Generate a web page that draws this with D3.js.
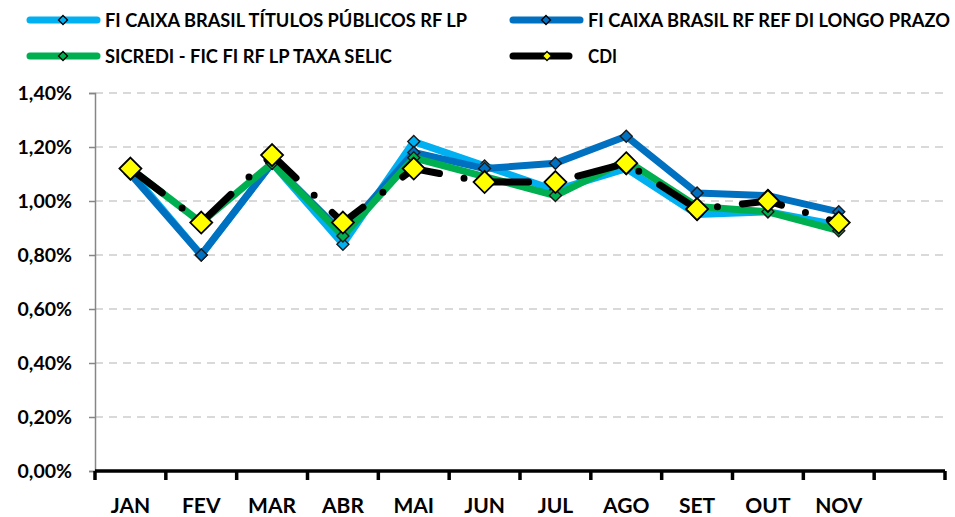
<!DOCTYPE html>
<html><head><meta charset="utf-8">
<script src="https://cdn.jsdelivr.net/npm/d3@7"></script>
<style>body{margin:0;background:#fff}svg{display:block}text{font-family:Lato,"Open Sans",sans-serif;font-weight:bold;fill:#000}</style>
</head><body><svg id="c" width="955" height="517"></svg>
<script>
const months = ["JAN","FEV","MAR","ABR","MAI","JUN","JUL","AGO","SET","OUT","NOV","DEZ"];
const monthLabels = ["JAN","FEV","MAR","ABR","MAI","JUN","JUL","AGO","SET","OUT","NOV",""];
const yTicks = [0,0.2,0.4,0.6,0.8,1.0,1.2,1.4];
const titulosPublicos = [1.11,0.80,1.14,0.84,1.22,1.13,1.04,1.12,0.95,0.96,0.91];
const refDiLongo = [1.10,0.80,1.14,0.88,1.18,1.12,1.14,1.24,1.03,1.02,0.96];
const sicredi = [1.12,0.92,1.14,0.87,1.16,1.09,1.02,1.15,0.98,0.96,0.89];
const cdi = [1.12,0.92,1.17,0.92,1.12,1.07,1.07,1.14,0.97,1.00,0.92];
const seriesNames = ["FI CAIXA BRASIL TÍTULOS PÚBLICOS RF LP","FI CAIXA BRASIL RF REF DI LONGO PRAZO","SICREDI - FIC FI RF LP TAXA SELIC","CDI"];
const seriesColors = ["#00B0F0","#0070C0","#00B050","#000000"];

const svg = d3.select("#c");
const x = d3.scaleBand().domain(months).range([95,945]);
const y = d3.scaleLinear().domain([0,1.4]).range([471,93]);
const fmt = v => d3.format(".2f")(v).replace(".", ",") + "%";

// gridlines
svg.append("g").selectAll("line").data(yTicks.filter(d=>d>0)).join("line")
  .attr("x1",95).attr("x2",945).attr("y1",d=>y(d)).attr("y2",d=>y(d))
  .attr("stroke","#d9d9d9").attr("stroke-width",2).attr("stroke-dasharray","8 6");

// y axis
const ya = svg.append("g").attr("transform","translate(95,0)")
  .call(d3.axisLeft(y).tickValues(yTicks).tickFormat(fmt).tickSize(6).tickPadding(17));
ya.select(".domain").attr("stroke","#868686").attr("stroke-width",1.5);
ya.selectAll(".tick line").attr("stroke","#868686").attr("stroke-width",1.5);
ya.selectAll("text").attr("font-size",19.5).attr("font-family","Lato").attr("font-weight","bold").attr("fill","#000");

// x axis
const xa = svg.append("g").attr("transform","translate(0,471)")
  .call(d3.axisBottom(x).tickFormat((d,i)=>monthLabels[i]).tickSize(0).tickPadding(42));
xa.select(".domain").remove();
xa.selectAll("text").attr("font-size",21).attr("font-family","Lato").attr("font-weight","bold").attr("fill","#000").attr("dy","0");
svg.append("line").attr("x1",95).attr("x2",945).attr("y1",471).attr("y2",471).attr("stroke","#000").attr("stroke-width",3.5);
const bounds = months.map(m=>x(m)).concat([x.range()[1]]);
svg.append("g").selectAll("line").data(bounds).join("line")
  .attr("x1",d=>d).attr("x2",d=>d).attr("y1",471).attr("y2",480)
  .attr("stroke","#000").attr("stroke-width",3.5);

const cx = i => x(months[i]) + x.bandwidth()/2;
const line = d3.line().x((d,i)=>cx(i)).y(d=>y(d));
const diamond = (s) => `M0,${-s}L${s},0L0,${s}L${-s},0Z`;

const allSeries = [titulosPublicos, refDiLongo, sicredi, cdi];
allSeries.forEach((data,k)=>{
  const g = svg.append("g");
  const p = g.append("path").attr("d",line(data)).attr("fill","none")
    .attr("stroke",seriesColors[k]).attr("stroke-width",7)
    .attr("stroke-linejoin","round").attr("stroke-linecap","round");
  if(k===3) p.attr("stroke-dasharray","40 25 0 25");
  g.selectAll("path.m").data(data).join("path").attr("class","m")
    .attr("transform",(d,i)=>`translate(${cx(i)},${y(d)})`)
    .attr("d",diamond(k===3?11:6))
    .attr("fill",k===3?"#FFFF00":seriesColors[k])
    .attr("stroke",k===3?"#000":"#1a1a1a").attr("stroke-width",k===3?1.8:1.4);
});

// legend
const leg = [
  {i:0,x:27,y:20,tx:105,w:362},{i:1,x:510,y:20,tx:588,w:362},
  {i:2,x:27,y:56,tx:105,w:287},{i:3,x:510,y:56,tx:588,w:29}
];
leg.forEach(l=>{
  const g = svg.append("g");
  const len = l.i===3?62:73;
  g.append("line").attr("x1",l.x+3).attr("x2",l.x+len-3).attr("y1",l.y).attr("y2",l.y)
    .attr("stroke",seriesColors[l.i]).attr("stroke-width",7).attr("stroke-linecap","round");
  g.append("path").attr("transform",`translate(${l.x+(l.i===3?37:36)},${l.y})`).attr("d",diamond(4.5))
    .attr("fill",l.i===3?"#FFFF00":seriesColors[l.i]).attr("stroke","#000").attr("stroke-width",1.3);
  g.append("text").attr("x",l.tx).attr("y",l.y+6.5).attr("font-size",18.5)
    .attr("textLength",l.w).attr("lengthAdjust","spacingAndGlyphs")
    .text(seriesNames[l.i]);
});
</script></body></html>
